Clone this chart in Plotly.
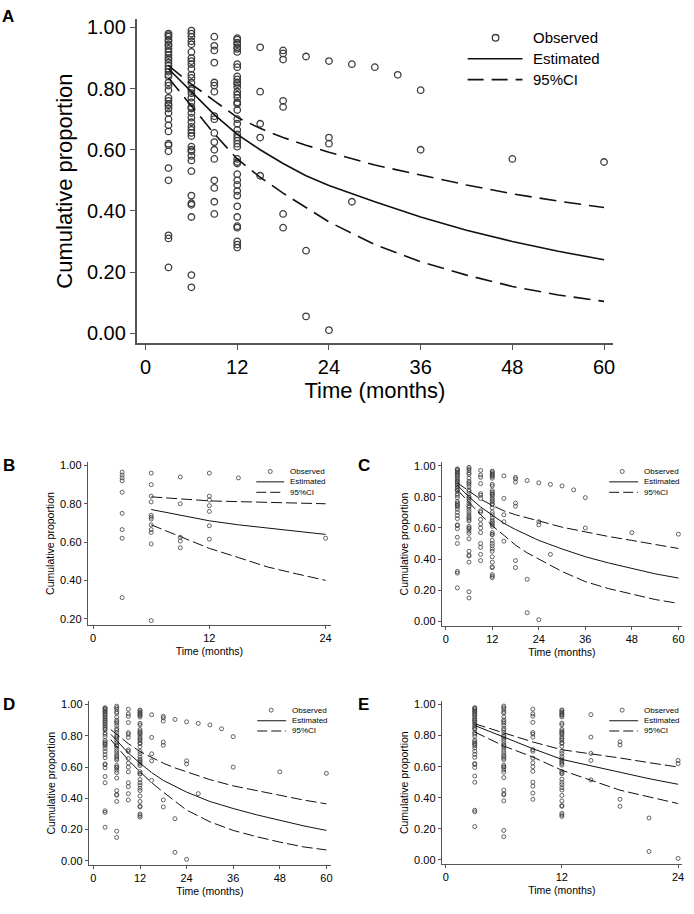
import plotly.graph_objects as go

W, H = 694, 914
FONT = "Arial, Liberation Sans, sans-serif"
MARK = "#3c3c3c"
LINE = "#111111"
AXIS = "#555555"

# ---------------- observed data (whole cohort) ----------------
obs_m3 = [0.98, 0.975, 0.97, 0.96, 0.955, 0.945, 0.94, 0.93, 0.92, 0.91, 0.90, 0.895,
          0.885, 0.875, 0.865, 0.855, 0.845, 0.84, 0.82, 0.81, 0.795, 0.77, 0.76, 0.75,
          0.745, 0.735, 0.72, 0.70, 0.68, 0.66, 0.62, 0.615, 0.595, 0.54, 0.50, 0.32,
          0.31, 0.215]
obs_m6 = [0.99, 0.98, 0.97, 0.955, 0.945, 0.92, 0.90, 0.89, 0.88, 0.865, 0.845, 0.835,
          0.82, 0.80, 0.795, 0.785, 0.77, 0.755, 0.74, 0.735, 0.72, 0.705, 0.69, 0.675,
          0.665, 0.655, 0.645, 0.61, 0.60, 0.595, 0.58, 0.565, 0.53, 0.45, 0.425, 0.42,
          0.38, 0.19, 0.15]
obs_m9 = [0.97, 0.94, 0.925, 0.885, 0.82, 0.81, 0.79, 0.71, 0.70, 0.655, 0.625, 0.60,
          0.57, 0.50, 0.475, 0.43, 0.39]
obs_m12 = [0.965, 0.96, 0.95, 0.945, 0.935, 0.93, 0.92, 0.88, 0.87, 0.84, 0.83, 0.82,
           0.815, 0.805, 0.79, 0.78, 0.77, 0.755, 0.75, 0.73, 0.70, 0.685, 0.665, 0.65,
           0.64, 0.63, 0.62, 0.61, 0.57, 0.56, 0.555, 0.52, 0.50, 0.485, 0.465, 0.45,
           0.415, 0.38, 0.35, 0.345, 0.30, 0.29, 0.28]
obs_m15 = [0.935, 0.79, 0.685, 0.64, 0.515]
obs_m18 = [0.925, 0.915, 0.895, 0.76, 0.74, 0.39, 0.345]
obs_m21 = [0.905, 0.27, 0.055]
obs_m24 = [0.89, 0.64, 0.62, 0.01]
obs_m27 = [0.88, 0.43]
obs_m30 = [0.87]
obs_m33 = [0.845]
obs_m36 = [0.795, 0.60]
obs_m48 = [0.57]
obs_m60 = [0.56]

# subset shown in panel E (follow-up up to 24 months)
obsE_m18 = [0.76, 0.74, 0.39, 0.345]
obsE_m21 = [0.27, 0.055]
obsE_m24 = [0.64, 0.62, 0.01]

# panel B cohort
obsB_m3 = [0.965, 0.95, 0.935, 0.92, 0.86, 0.75, 0.665, 0.62, 0.31]
obsB_m6 = [0.96, 0.90, 0.84, 0.81, 0.74, 0.73, 0.72, 0.69, 0.665, 0.65, 0.59, 0.19]
obsB_m9 = [0.94, 0.80, 0.625, 0.605, 0.57]
obsB_m12 = [0.96, 0.84, 0.82, 0.79, 0.76, 0.685, 0.615]
obsB_m15 = [0.935]
obsB_m24 = [0.62]

# ---------------- fitted curves ----------------
t_A = [3, 6, 9, 12, 15, 18, 21, 24, 30, 36, 42, 48, 54, 60]
est_A = [0.865, 0.79, 0.715, 0.65, 0.60, 0.555, 0.515, 0.483, 0.43, 0.38, 0.337, 0.30, 0.268, 0.24]
up_A = [0.875, 0.815, 0.76, 0.706, 0.67, 0.64, 0.615, 0.592, 0.55, 0.517, 0.485, 0.456, 0.432, 0.411]
lo_A = [0.835, 0.745, 0.652, 0.57, 0.51, 0.458, 0.41, 0.364, 0.29, 0.234, 0.19, 0.153, 0.125, 0.104]

t_B = [6, 9, 12, 15, 18, 21, 24]
est_B = [0.77, 0.74, 0.711, 0.69, 0.674, 0.657, 0.64]
up_B = [0.836, 0.825, 0.815, 0.811, 0.808, 0.804, 0.80]
lo_B = [0.69, 0.63, 0.567, 0.519, 0.47, 0.434, 0.40]

t_C = [3, 6, 9, 12, 15, 18, 21, 24, 30, 36, 42, 48, 54, 60]
est_C = [0.875, 0.80, 0.735, 0.68, 0.63, 0.59, 0.555, 0.52, 0.465, 0.415, 0.375, 0.34, 0.305, 0.278]
up_C = [0.89, 0.835, 0.785, 0.745, 0.71, 0.685, 0.665, 0.645, 0.605, 0.575, 0.545, 0.52, 0.495, 0.468]
lo_C = [0.845, 0.765, 0.685, 0.615, 0.55, 0.49, 0.44, 0.40, 0.32, 0.255, 0.21, 0.175, 0.14, 0.115]

t_D = [4.5, 6, 9, 12, 15, 18, 21, 24, 30, 36, 42, 48, 54, 60]
est_D = [0.81, 0.77, 0.69, 0.625, 0.565, 0.515, 0.475, 0.44, 0.38, 0.335, 0.295, 0.26, 0.225, 0.195]
up_D = [0.84, 0.81, 0.75, 0.70, 0.66, 0.625, 0.595, 0.57, 0.52, 0.48, 0.45, 0.42, 0.39, 0.365]
lo_D = [0.775, 0.73, 0.645, 0.57, 0.50, 0.44, 0.38, 0.325, 0.25, 0.195, 0.155, 0.12, 0.09, 0.07]

t_E = [3, 6, 9, 12, 15, 18, 21, 24]
est_E = [0.865, 0.79, 0.716, 0.647, 0.605, 0.562, 0.523, 0.487]
up_E = [0.876, 0.82, 0.759, 0.709, 0.684, 0.656, 0.626, 0.598]
lo_E = [0.823, 0.733, 0.662, 0.577, 0.513, 0.449, 0.406, 0.363]

legend_names = ["Observed", "Estimated", "95%CI"]
y_ticks = [0.0, 0.2, 0.4, 0.6, 0.8, 1.0]
y_ticks_B = [0.2, 0.4, 0.6, 0.8, 1.0]
x_ticks_60 = [0, 12, 24, 36, 48, 60]
x_ticks_24 = [0, 12, 24]
panel_letters = ["A", "B", "C", "D", "E"]


def flatten(groups):
    xs, ys = [], []
    for m, vals in groups:
        xs += [m] * len(vals)
        ys += list(vals)
    return xs, ys


full_groups = [(3, obs_m3), (6, obs_m6), (9, obs_m9), (12, obs_m12), (15, obs_m15),
               (18, obs_m18), (21, obs_m21), (24, obs_m24), (27, obs_m27), (30, obs_m30),
               (33, obs_m33), (36, obs_m36), (48, obs_m48), (60, obs_m60)]
e_groups = [(3, obs_m3), (6, obs_m6), (9, obs_m9), (12, obs_m12), (15, obs_m15),
            (18, obsE_m18), (21, obsE_m21), (24, obsE_m24)]
b_groups = [(3, obsB_m3), (6, obsB_m6), (9, obsB_m9), (12, obsB_m12), (15, obsB_m15),
            (24, obsB_m24)]

fig = go.Figure()

panels = [
    ("", full_groups, t_A, est_A, up_A, lo_A, True),
    ("2", b_groups, t_B, est_B, up_B, lo_B, False),
    ("3", full_groups, t_C, est_C, up_C, lo_C, False),
    ("4", full_groups, t_D, est_D, up_D, lo_D, False),
    ("5", e_groups, t_E, est_E, up_E, lo_E, False),
]

for suf, groups, t, est, up, lo, big in panels:
    xs, ys = flatten(groups)
    xa, ya = "x" + suf, "y" + suf
    msize, mlw = (6.5, 1.3) if big else (4, 0.8)
    lw = 1.6 if big else 1.0
    dash = "17px,8px" if big else "11px,4px"
    fig.add_trace(go.Scatter(x=xs, y=ys, mode="markers", xaxis=xa, yaxis=ya,
                             marker=dict(symbol="circle-open", size=msize, color=MARK,
                                         line=dict(width=mlw, color=MARK)),
                             name="Observed", showlegend=False))
    fig.add_trace(go.Scatter(x=t, y=est, mode="lines", xaxis=xa, yaxis=ya,
                             line=dict(color=LINE, width=lw), name="Estimated",
                             showlegend=False))
    for arr in (up, lo):
        fig.add_trace(go.Scatter(x=t, y=arr, mode="lines", xaxis=xa, yaxis=ya,
                                 line=dict(color=LINE, width=lw, dash=dash),
                                 name="95%CI", showlegend=False))


def px(x):
    return x / W


def py(y):
    return 1 - y / H


def axis(domain, rng, ticks, fmt, big, title, standoff):
    return dict(
        domain=domain, range=rng, tickvals=ticks, tickformat=fmt,
        showline=True, linecolor=AXIS, linewidth=1.5 if big else 1,
        ticks="outside", ticklen=5 if big else 3, tickwidth=1.2 if big else 0.8,
        tickcolor=AXIS, showgrid=False, zeroline=False,
        tickfont=dict(family=FONT, size=20 if big else 11, color="#000"),
        title=dict(text=title, font=dict(family=FONT, size=22 if big else 10.5, color="#000"),
                   standoff=standoff),
    )


layout_axes = {}
specs = [
    ("", (137, 615), (16, 342), [-1.17, 61.2], [-0.0325, 1.028], x_ticks_60, y_ticks, True),
    ("2", (88, 332), (462, 625), [-0.55, 24.56], [0.169, 1.0156], x_ticks_24, y_ticks_B, False),
    ("3", (443, 684), (462, 626), [-1.03, 60.94], [-0.0276, 1.021], x_ticks_60, y_ticks, False),
    ("4", (89, 332), (702, 867), [-1.2, 61.2], [-0.028, 1.022], x_ticks_60, y_ticks, False),
    ("5", (443, 684), (702, 866), [-0.41, 24.41], [-0.0275, 1.0215], x_ticks_24, y_ticks, False),
]
for suf, xd, yd, xr, yr, xt, yt, big in specs:
    xdom = [px(xd[0]), px(xd[1])]
    ydom = [py(yd[1]), py(yd[0])]
    xax = axis(xdom, xr, xt, "d", big, "Time (months)", 6 if big else 4)
    yax = axis(ydom, yr, yt, ".2f", big, "Cumulative proportion", 8 if big else 3)
    xax["anchor"] = "y" + suf
    yax["anchor"] = "x" + suf
    layout_axes["xaxis" + suf] = xax
    layout_axes["yaxis" + suf] = yax

shapes, annotations = [], []

legend_specs = [
    (497, 469, 524, 533, (35, 56, 77), 15, True),
    (271, 257, 285, 289, (471, 481.5, 492), 8, False),
    (624, 611, 640, 644, (471, 481.5, 492), 8, False),
    (272, 258, 287, 291, (711, 721.7, 732), 8, False),
    (624, 611, 640, 644, (711, 721.7, 732), 8, False),
]
for cx, lx0, lx1, tx, rows, fs, big in legend_specs:
    r = 3.3 if big else 2
    shapes.append(dict(type="circle", xref="paper", yref="paper",
                       xsizemode="pixel", ysizemode="pixel",
                       xanchor=px(cx), yanchor=py(rows[0]),
                       x0=-r, x1=r, y0=-r, y1=r,
                       line=dict(color=MARK, width=1.3 if big else 0.8)))
    lw = 1.6 if big else 1.0
    shapes.append(dict(type="line", xref="paper", yref="paper",
                       x0=px(lx0), x1=px(lx1), y0=py(rows[1]), y1=py(rows[1]),
                       line=dict(color=LINE, width=lw)))
    shapes.append(dict(type="line", xref="paper", yref="paper",
                       x0=px(lx0), x1=px(lx1), y0=py(rows[2]), y1=py(rows[2]),
                       line=dict(color=LINE, width=lw, dash="16px,8px" if big else "10px,4px")))
    for name, ry in zip(legend_names, rows):
        annotations.append(dict(text=name, xref="paper", yref="paper", x=px(tx), y=py(ry),
                                xanchor="left", yanchor="middle", showarrow=False,
                                font=dict(family=FONT, size=fs, color="#000")))

letter_pos = [(8, 14), (9, 465), (365, 465), (9, 705), (365, 705)]
for letter, (lx, ly) in zip(panel_letters, letter_pos):
    annotations.append(dict(text="<b>%s</b>" % letter, xref="paper", yref="paper",
                            x=px(lx), y=py(ly), xanchor="center", yanchor="middle",
                            showarrow=False, font=dict(family=FONT, size=17, color="#000")))

fig.update_layout(
    width=W, height=H, margin=dict(l=0, r=0, t=0, b=0),
    paper_bgcolor="white", plot_bgcolor="white",
    font=dict(family=FONT, color="#000"),
    showlegend=False, shapes=shapes, annotations=annotations,
    **layout_axes,
)

fig.write_html("out.html")
